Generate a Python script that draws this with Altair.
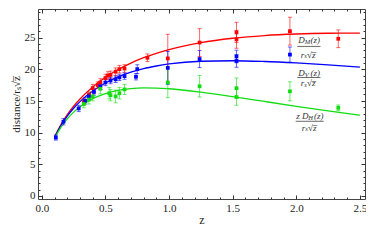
import altair as alt
import pandas as pd

# ---------------- data ----------------
series_names = ["DM", "DV", "DH"]
series_colors = ["#ff0000", "#0000ff", "#11dd11"]

# model curves
curve_z = [0.10, 0.15, 0.20, 0.25, 0.30, 0.40, 0.50, 0.60, 0.70, 0.80, 0.90,
           1.00, 1.25, 1.50, 1.75, 2.00, 2.25, 2.50]
curve_dm = [9.29, 11.25, 12.82, 14.15, 15.29, 17.19, 18.72, 19.94, 20.96, 21.81,
            22.50, 23.10, 24.19, 24.88, 25.31, 25.55, 25.67, 25.70]
curve_dv = [9.21, 11.10, 12.60, 13.83, 14.88, 16.54, 17.82, 18.77, 19.52, 20.09,
            20.50, 20.82, 21.25, 21.33, 21.21, 20.98, 20.68, 20.33]
curve_dh = [9.06, 10.81, 12.16, 13.22, 14.08, 15.34, 16.15, 16.65, 16.93, 17.04,
            17.02, 16.91, 16.38, 15.67, 14.90, 14.14, 13.41, 12.73]

# measurements: D_M / (r_s sqrt z)
dm_z = [0.33, 0.37, 0.40, 0.44, 0.46, 0.50, 0.52, 0.54, 0.58, 0.61, 0.65,
        0.83, 0.99, 1.24, 1.53, 1.53, 1.95, 2.33]
dm_val = [14.8, 15.9, 17.0, 17.5, 17.9, 18.6, 19.0, 19.1, 19.6, 20.0, 20.1,
          21.8, 21.7, 24.2, 25.8, 24.7, 26.0, 24.8]
dm_err = [0.5, 0.5, 0.6, 0.5, 0.6, 0.6, 0.6, 0.6, 0.6, 0.6, 0.6,
          0.6, 3.8, 2.2, 1.6, 1.4, 2.2, 1.4]

# measurements: D_V / (r_s sqrt z)
dv_z = [0.11, 0.17, 0.29, 0.34, 0.37, 0.41, 0.46, 0.50, 0.54, 0.58, 0.61,
        0.65, 0.74, 0.75, 0.99, 1.24, 1.53, 1.53, 1.95]
dv_val = [9.2, 11.7, 13.8, 15.0, 15.7, 16.4, 17.3, 17.9, 18.2, 18.4, 18.7,
          18.9, 18.8, 20.0, 20.2, 21.6, 22.0, 21.3, 22.3]
dv_err = [0.4, 0.5, 0.5, 0.5, 0.5, 0.5, 0.5, 0.5, 0.5, 0.5, 0.5,
          0.5, 0.5, 0.7, 2.6, 1.35, 1.0, 1.0, 1.2]

# measurements: z D_H / (r_s sqrt z)
dh_z = [0.33, 0.37, 0.40, 0.46, 0.53, 0.54, 0.58, 0.61, 0.65,
        0.99, 1.24, 1.53, 1.53, 1.95, 2.33]
dh_val = [14.5, 15.2, 15.7, 16.9, 16.2, 15.9, 15.7, 16.2, 16.8,
          17.9, 17.3, 17.0, 15.6, 16.5, 13.9]
dh_err = [0.6, 0.7, 0.7, 0.8, 0.9, 0.9, 1.0, 0.9, 0.8,
          2.4, 1.7, 1.6, 1.3, 1.5, 0.45]

# axis ticks
x_major = [0.0, 0.5, 1.0, 1.5, 2.0, 2.5]
x_minor = [0.1, 0.2, 0.3, 0.4, 0.6, 0.7, 0.8, 0.9, 1.1, 1.2, 1.3, 1.4,
           1.6, 1.7, 1.8, 1.9, 2.1, 2.2, 2.3, 2.4]
y_major = [0, 5, 10, 15, 20, 25]
y_minor = [1, 2, 3, 4, 6, 7, 8, 9, 11, 12, 13, 14, 16, 17, 18, 19,
           21, 22, 23, 24, 26, 27, 28, 29]

# on-plot fraction labels (text pieces, data coordinates)
label_text = ["D", "M", "(z)", "r", "s", "√z̅",
              "D", "V", "(z)", "r", "s", "√z̅",
              "z D", "H", "(z)", "r", "s", "√z̅"]
label_z = [2.015, 2.066, 2.112, 2.036, 2.063, 2.085,
           2.015, 2.066, 2.112, 2.036, 2.063, 2.085,
           2.000, 2.094, 2.140, 2.043, 2.070, 2.092]
label_v = [24.58, 24.28, 24.58, 22.31, 22.03, 22.31,
           19.33, 19.03, 19.33, 17.83, 17.55, 17.83,
           12.62, 12.32, 12.62, 10.78, 10.50, 10.78]
label_size = [9, 6.5, 9, 9, 6.5, 9,
              9, 6.5, 9, 9, 6.5, 9,
              9, 6.5, 9, 9, 6.5, 9]
bar_z = [2.008, 2.008, 1.995]
bar_z2 = [2.190, 2.190, 2.215]
bar_v = [23.59, 18.68, 11.77]

# ---------------- tables ----------------
curves = pd.concat([
    pd.DataFrame({"z": curve_z, "v": curve_dm, "s": "DM"}),
    pd.DataFrame({"z": curve_z, "v": curve_dv, "s": "DV"}),
    pd.DataFrame({"z": curve_z, "v": curve_dh, "s": "DH"}),
])


def meas(zs, vs, es, name):
    d = pd.DataFrame({"z": zs, "v": vs, "e": es})
    d["lo"] = d["v"] - d["e"]
    d["hi"] = d["v"] + d["e"]
    d["s"] = name
    return d


points = pd.concat([
    meas(dm_z, dm_val, dm_err, "DM"),
    meas(dv_z, dv_val, dv_err, "DV"),
    meas(dh_z, dh_val, dh_err, "DH"),
])
labels = pd.DataFrame({"z": label_z, "v": label_v, "t": label_text, "fs": label_size})
bars = pd.DataFrame({"z": bar_z, "z2": bar_z2, "v": bar_v})

# ---------------- chart ----------------
SERIF = "Liberation Serif"
xs = alt.Scale(domain=[-0.03, 2.54], nice=False, zero=False)
ys = alt.Scale(domain=[-0.5, 29.5], nice=False, zero=False)
col = alt.Color("s:N", scale=alt.Scale(domain=series_names, range=series_colors), legend=None)


def tick_axis(orient, vals, size):
    return alt.Axis(orient=orient, values=vals, labels=False, ticks=True,
                    tickSize=size, offset=-size, domain=False, grid=False,
                    tickColor="#333333", tickWidth=1, title=None)


ax_x_main = alt.Axis(orient="bottom", values=x_major, format=".1f", title="z",
                     ticks=False, domain=False, grid=False, labelFont=SERIF,
                     labelFontSize=11, labelColor="#222222", labelPadding=3,
                     titleFont=SERIF, titleFontSize=12, titleFontWeight="normal",
                     titleColor="#222222", titlePadding=1)
ax_y_main = alt.Axis(orient="left", values=y_major, format="d",
                     title="distance/rₛ√z̅", ticks=False, domain=False, grid=False,
                     labelFont=SERIF, labelFontSize=11, labelColor="#222222",
                     labelPadding=3, titleFont=SERIF, titleFontSize=11,
                     titleFontWeight="normal", titleColor="#222222", titlePadding=3)

lines = alt.Chart(curves).mark_line(strokeWidth=1.3, interpolate="monotone").encode(
    x=alt.X("z:Q", scale=xs, axis=ax_x_main),
    y=alt.Y("v:Q", scale=ys, axis=ax_y_main),
    color=col, detail="s:N")

errs = alt.Chart(points).mark_rule(strokeWidth=1, opacity=0.6).encode(
    x=alt.X("z:Q", scale=xs, axis=tick_axis("bottom", x_major, 4)),
    y=alt.Y("lo:Q", scale=ys, axis=tick_axis("left", y_major, 4)),
    y2="hi:Q", color=col)

caps_lo = alt.Chart(points).mark_tick(orient="horizontal", size=4, thickness=1, opacity=0.6).encode(
    x=alt.X("z:Q", scale=xs, axis=tick_axis("bottom", x_minor, 2)),
    y=alt.Y("lo:Q", scale=ys, axis=tick_axis("left", y_minor, 2)),
    color=col)

caps_hi = alt.Chart(points).mark_tick(orient="horizontal", size=4, thickness=1, opacity=0.6).encode(
    x=alt.X("z:Q", scale=xs, axis=tick_axis("top", x_major, 4)),
    y=alt.Y("hi:Q", scale=ys, axis=tick_axis("right", y_major, 4)),
    color=col)

marks = alt.Chart(points).mark_square(size=14, opacity=1).encode(
    x=alt.X("z:Q", scale=xs, axis=tick_axis("top", x_minor, 2)),
    y=alt.Y("v:Q", scale=ys, axis=tick_axis("right", y_minor, 2)),
    color=col)

texts = alt.Chart(labels).mark_text(align="left", baseline="middle", font=SERIF,
                                    fontStyle="italic", color="#333333").encode(
    x=alt.X("z:Q", scale=xs, axis=None),
    y=alt.Y("v:Q", scale=ys, axis=None),
    text="t:N",
    size=alt.Size("fs:Q", scale=None))

fracs = alt.Chart(bars).mark_rule(strokeWidth=0.8, color="#444444").encode(
    x=alt.X("z:Q", scale=xs, axis=None),
    x2="z2:Q",
    y=alt.Y("v:Q", scale=ys, axis=None))

chart = alt.layer(lines, errs, caps_lo, caps_hi, marks, fracs, texts).resolve_axis(
    x="independent", y="independent"
).properties(
    width=327, height=190,
    autosize=alt.AutoSizeParams(type="none"),
    padding={"left": 30, "top": 1, "right": 1, "bottom": 29},
).configure_view(stroke="#444444", strokeWidth=1)

chart.save("out.html", embed_options={"renderer": "svg", "actions": False})
